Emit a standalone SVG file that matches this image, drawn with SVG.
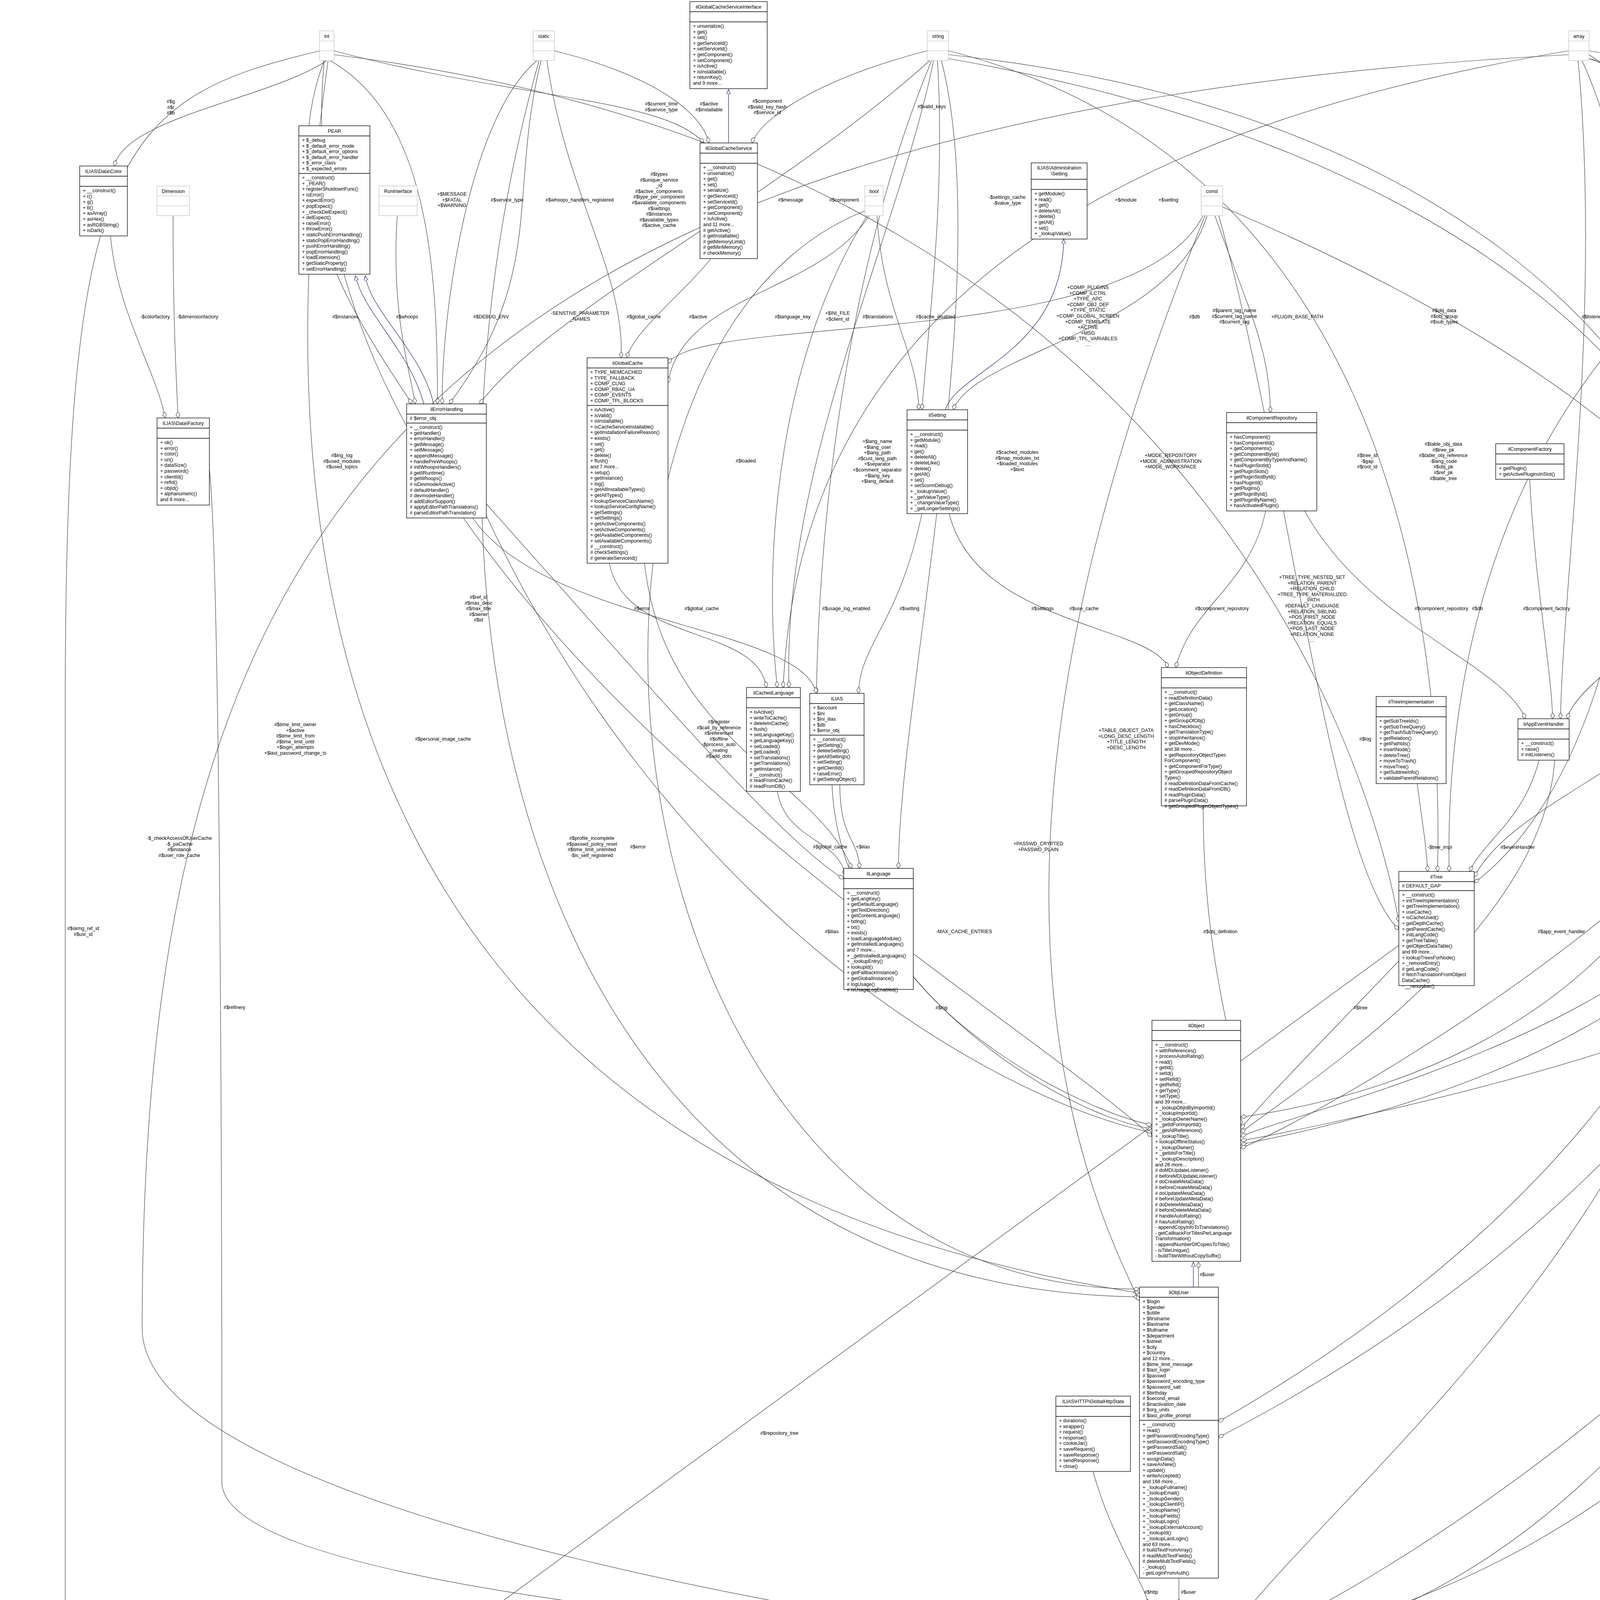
<svg xmlns="http://www.w3.org/2000/svg" width="5605" height="4625" viewBox="0 0 5605 4625">
<style>
.b{fill:#fff;stroke:#000;stroke-width:1.3}
.s{fill:#bfbfbf;stroke:#000;stroke-width:1.3}
.g{fill:#fff;stroke:#bfbfbf;stroke-width:1.2}
.k{stroke:#000;stroke-width:1.3}
.kg{stroke:#bfbfbf;stroke-width:1.2}
text{font-family:"Liberation Sans",Arial,Helvetica,sans-serif;font-size:12.5px;fill:#000}
.c{text-anchor:middle}
.e{fill:none;stroke:#404040;stroke-width:1.2;marker-end:url(#dia)}
.i{fill:none;stroke:#191970;stroke-width:1.2;marker-end:url(#tri)}
</style>
<defs>
<marker id="dia" markerUnits="userSpaceOnUse" markerWidth="18" markerHeight="12" refX="16" refY="5" orient="auto"><path d="M0,5 L8,0 L16,5 L8,10 z" fill="#fff" stroke="#404040" stroke-width="1.2"/></marker>
<marker id="tri" markerUnits="userSpaceOnUse" markerWidth="14" markerHeight="12" refX="12" refY="5" orient="auto"><path d="M0,0 L12,5 L0,10 z" fill="#fff" stroke="#191970" stroke-width="1.2"/></marker>
</defs>
<rect width="5605" height="4625" fill="#fff"/>
<g id="connectors">
<path class="e" d="M836,155 C700,250 320,300 293,425"/>
<path class="e" d="M283,604 C300,800 400,950 423,1070"/>
<path class="e" d="M443,552 C443,800 450,950 456,1070"/>
<path class="e" d="M1017,552 C1000,800 1050,950 1063,1034"/>
<path class="e" d="M845,155 C1100,300 1120,700 1120,1034"/>
<path class="e" d="M1375,155 C1200,300 1130,800 1132,1034"/>
<path class="e" d="M1385,155 C1300,500 1400,700 1150,1034"/>
<path class="e" d="M2380,155 C2000,500 1400,800 1228,1034"/>
<path class="e" d="M830,155 C700,500 900,800 1055,1034"/>
<path class="e" d="M855,130 C1300,250 1700,250 1802,366"/>
<path class="e" d="M1419,130 C1700,200 1800,300 1815,366"/>
<path class="e" d="M2374,130 C2100,200 1950,300 1925,366"/>
<path class="e" d="M1400,155 C1450,500 1600,700 1590,916"/>
<path class="e" d="M1820,662 C1750,750 1620,850 1605,916"/>
<path class="e" d="M2225,552 C2100,750 1750,750 1710,980"/>
<path class="e" d="M2400,155 C2420,500 2380,800 2360,1049"/>
<path class="e" d="M2245,552 C2260,800 2350,900 2352,1049"/>
<path class="e" d="M3090,552 C3000,850 2500,900 2440,1049"/>
<path class="e" d="M3110,552 C3200,800 3252,900 3252,1056"/>
<path class="e" d="M3080,552 C2900,900 1800,800 1710,930"/>
<path class="e" d="M2390,155 C2300,600 2000,1200 2020,1760"/>
<path class="e" d="M2220,552 C2000,900 1950,1400 1990,1760"/>
<path class="e" d="M4016,130 C3000,300 2050,700 2005,1760"/>
<path class="e" d="M2385,155 C2200,600 2100,1200 2090,1775"/>
<path class="e" d="M1560,1442 C1600,1650 1940,1600 1962,1760"/>
<path class="e" d="M1210,1326 C1400,1600 2050,1600 2090,1775"/>
<path class="e" d="M2360,1315 C2300,1600 2200,1650 2198,1775"/>
<path class="e" d="M1990,2026 C2010,2150 2150,2150 2163,2240"/>
<path class="e" d="M2150,2009 C2150,2150 2200,2150 2200,2223"/>
<path class="e" d="M1245,1290 C1700,1800 2000,2150 2160,2250"/>
<path class="e" d="M1650,1442 C1700,1900 2100,2000 2180,2223"/>
<path class="e" d="M2430,1315 C2500,1600 2950,1600 2990,1709"/>
<path class="e" d="M3240,1308 C3200,1500 3050,1550 3010,1709"/>
<path class="e" d="M2410,155 C2550,700 2300,1800 2300,2223"/>
<path class="e" d="M3340,1308 C3500,1600 3850,1700 3905,1840"/>
<path class="e" d="M3916,1227 C3930,1500 3970,1700 3975,1840"/>
<path class="e" d="M4040,155 C4100,800 4000,1500 3995,1840"/>
<path class="e" d="M4745,1294 C4500,1500 4050,1700 4012,1840"/>
<path class="e" d="M3628,2006 C3640,2100 3650,2150 3655,2231"/>
<path class="e" d="M3940,1946 C3900,2100 3800,2150 3762,2231"/>
<path class="e" d="M4502,560 C3800,1000 3700,1800 3710,2231"/>
<path class="e" d="M4740,1290 C4500,1900 3900,2000 3774,2245"/>
<path class="e" d="M4050,155 C4300,700 4250,1900 3774,2260"/>
<path class="e" d="M2428,130 C3500,400 3700,1500 3680,2231"/>
<path class="e" d="M855,140 C3000,400 3500,1900 3581,2360"/>
<path class="e" d="M3120,552 C3300,1200 3400,2200 3581,2380"/>
<path class="e" d="M4560,640 C4500,1200 4480,1500 4470,1672"/>
<path class="e" d="M4068,140 C4600,500 4520,1300 4540,1672"/>
<path class="e" d="M4760,1294 C4700,1500 4650,1550 4605,1672"/>
<path class="e" d="M3130,530 C4000,900 4450,1300 4570,1672"/>
<path class="e" d="M4600,2114 C4620,2200 4630,2230 4632,2260"/>
<path class="e" d="M4800,1294 C4790,1800 4700,2100 4690,2260"/>
<path class="e" d="M4700,640 C4950,1300 4780,2100 4750,2260"/>
<path class="e" d="M4710,640 C5000,800 5200,900 5280,1027"/>
<path class="e" d="M4068,130 C5100,300 5400,600 5405,1027"/>
<path class="e" d="M4862,552 C4850,800 4800,1000 4790,1071"/>
<path class="e" d="M3080,2063 C3080,2500 3180,2700 3176,2880"/>
<path class="e" d="M3581,2460 C3400,2650 3250,2800 3176,2890"/>
<path class="e" d="M3980,1946 C3950,2400 3300,2800 3176,2900"/>
<path class="e" d="M4480,2114 C4400,2600 3300,2850 3176,2910"/>
<path class="e" d="M4590,2480 C4300,2700 3300,2900 3176,2920"/>
<path class="e" d="M4740,600 C5000,1500 4900,2600 3176,2930"/>
<path class="e" d="M4820,1294 C4850,2000 3500,2800 3176,2940"/>
<path class="e" d="M2428,140 C4900,400 5000,2600 3176,2860"/>
<path class="e" d="M2338,2500 C2500,2700 2800,2850 2949,2880"/>
<path class="e" d="M2130,2009 C2150,2500 2700,2850 2949,2890"/>
<path class="e" d="M1245,1320 C1700,2300 2500,2800 2949,2900"/>
<path class="e" d="M830,155 C700,1500 2500,2500 2949,2910"/>
<path class="e" d="M5380,1337 C5380,3000 3500,4100 3107,4240"/>
<path class="e" d="M3068,3295 C3068,3260 3068,3240 3068,3231"/>
<path class="e" d="M840,155 C650,1500 900,3000 2917,3310"/>
<path class="e" d="M1380,155 C1000,1500 1300,3300 2917,3320"/>
<path class="e" d="M3085,552 C2700,1500 2500,2500 2917,3330"/>
<path class="e" d="M2214,540 C1300,900 1500,3300 2917,3300"/>
<path class="e" d="M2428,150 C5000,600 5100,2500 3119,3640"/>
<path class="e" d="M4068,150 C5300,600 5200,2600 3119,3680"/>
<path class="e" d="M3018,4040 L3018,4109"/>
<path class="e" d="M2798,3767 C2850,3950 2930,4050 2940,4109"/>
<path class="e" d="M4450,2114 C4300,3200 3300,3900 3107,4240"/>
<path class="e" d="M4720,640 C5350,2000 4500,4100 3107,4245"/>
<path class="e" d="M4068,150 C5580,500 5600,3800 3107,4235"/>
<path class="e" d="M4016,140 C1000,300 364,1400 364,3400 C364,3900 2500,4200 2930,4240"/>
<path class="e" d="M536,1200 C568,1500 568,3500 568,3800 C600,4100 2500,4200 2930,4245"/>
<path class="e" d="M2930,4260 L856,4530"/>
<path class="e" d="M29,4265 C30,4450 300,4530 627,4530"/>
<path class="e" d="M820,130 C300,250 167,400 167,1800 L167,4300 C167,4450 400,4520 627,4525"/>
<path class="e" d="M3581,2420 L860,4411"/>
<path class="i" d="M1865,366 L1865,229"/>
<path class="i" d="M1085,1034 C1050,900 930,800 910,706"/>
<path class="i" d="M1110,1034 C1080,900 950,800 935,706"/>
<path class="i" d="M2420,1049 C2450,950 2720,900 2723,612"/>
<path class="i" d="M3055,3295 L3055,3231"/>
</g>
<g id="labels">
<text class="c" x="437" y="264"><tspan x="437">#$g</tspan><tspan x="437" dy="14.6">#$r</tspan><tspan x="437" dy="14.6">#$b</tspan></text>
<text class="c" x="1693" y="270"><tspan x="1693">#$current_time</tspan><tspan x="1693" dy="14.6">#$service_type</tspan></text>
<text class="c" x="1815" y="270"><tspan x="1815">#$active</tspan><tspan x="1815" dy="14.6">#$installable</tspan></text>
<text class="c" x="1964" y="263"><tspan x="1964">#$component</tspan><tspan x="1964" dy="14.6">#$valid_key_hash</tspan><tspan x="1964" dy="14.6">#$service_id</tspan></text>
<text class="c" x="2385" y="277">#$valid_keys</text>
<text class="c" x="1157" y="501"><tspan x="1157">+$MESSAGE</tspan><tspan x="1157" dy="14.6">+$FATAL</tspan><tspan x="1157" dy="14.6">+$WARNING</tspan></text>
<text class="c" x="1298" y="516">#$service_type</text>
<text class="c" x="1484" y="516">#$whoops_handlers_registered</text>
<text class="c" x="1687" y="450"><tspan x="1687">#$types</tspan><tspan x="1687" dy="14.6">#$unique_service</tspan><tspan x="1687" dy="14.6">_id</tspan><tspan x="1687" dy="14.6">#$active_components</tspan><tspan x="1687" dy="14.6">#$type_per_component</tspan><tspan x="1687" dy="14.6">#$available_components</tspan><tspan x="1687" dy="14.6">#$settings</tspan><tspan x="1687" dy="14.6">#$instances</tspan><tspan x="1687" dy="14.6">#$available_types</tspan><tspan x="1687" dy="14.6">#$active_cache</tspan></text>
<text class="c" x="2024" y="516">#$message</text>
<text class="c" x="2161" y="516">#$component</text>
<text class="c" x="2578" y="509"><tspan x="2578">-$settings_cache</tspan><tspan x="2578" dy="14.6">-$value_type</tspan></text>
<text class="c" x="2882" y="516">+$module</text>
<text class="c" x="2991" y="516">+$setting</text>
<text class="c" x="397" y="815">-$colorfactory</text>
<text class="c" x="506" y="815">-$dimensionfactory</text>
<text class="c" x="884" y="815">#$instances</text>
<text class="c" x="1042" y="815">#$whoops</text>
<text class="c" x="1257" y="815">#$DEBUG_ENV</text>
<text class="c" x="1485" y="806"><tspan x="1485">-SENSTIVE_PARAMETER</tspan><tspan x="1485" dy="14.6">_NAMES</tspan></text>
<text class="c" x="1648" y="815">#$global_cache</text>
<text class="c" x="1787" y="815">#$active</text>
<text class="c" x="2029" y="815">#$language_key</text>
<text class="c" x="2144" y="806"><tspan x="2144">+$INI_FILE</tspan><tspan x="2144" dy="14.6">+$client_id</tspan></text>
<text class="c" x="2247" y="815">#$translations</text>
<text class="c" x="2395" y="815">#$cache_disabled</text>
<text class="c" x="2785" y="740"><tspan x="2785">+COMP_PLUGINS</tspan><tspan x="2785" dy="14.6">+COMP_ILCTRL</tspan><tspan x="2785" dy="14.6">+TYPE_APC</tspan><tspan x="2785" dy="14.6">+COMP_OBJ_DEF</tspan><tspan x="2785" dy="14.6">+TYPE_STATIC</tspan><tspan x="2785" dy="14.6">+COMP_GLOBAL_SCREEN</tspan><tspan x="2785" dy="14.6">+COMP_TEMPLATE</tspan><tspan x="2785" dy="14.6">+ACTIVE</tspan><tspan x="2785" dy="14.6">+MSG</tspan><tspan x="2785" dy="14.6">+COMP_TPL_VARIABLES</tspan><tspan x="2785" dy="14.6">...</tspan></text>
<text class="c" x="3058" y="815">#$db</text>
<text class="c" x="3160" y="799"><tspan x="3160">#$parent_tag_name</tspan><tspan x="3160" dy="14.6">#$current_tag_name</tspan><tspan x="3160" dy="14.6">#$current_tag</tspan></text>
<text class="c" x="3321" y="815">+PLUGIN_BASE_PATH</text>
<text class="c" x="3697" y="799"><tspan x="3697">#$obj_data</tspan><tspan x="3697" dy="14.6">#$obj_group</tspan><tspan x="3697" dy="14.6">#$sub_types</tspan></text>
<text class="c" x="4076" y="815">#$listener</text>
<text class="c" x="4549" y="799"><tspan x="4549">#$is_assigned_cache</tspan><tspan x="4549" dy="14.6">-$_opsCache</tspan><tspan x="4549" dy="14.6">#$assigned_users_cache</tspan></text>
<text class="c" x="4863" y="815">-$logger</text>
<text class="c" x="5235" y="815">#$db</text>
<text class="c" x="5383" y="494"><tspan x="5383">#$object_data_cache</tspan><tspan x="5383" dy="14.6">#$description_trans</tspan><tspan x="5383" dy="14.6">#$reference_cache</tspan><tspan x="5383" dy="14.6">#$trans_loaded</tspan></text>
<text class="c" x="875" y="1170"><tspan x="875">#$lng_log</tspan><tspan x="875" dy="14.6">#$used_modules</tspan><tspan x="875" dy="14.6">#$used_topics</tspan></text>
<text class="c" x="1909" y="1184">#$loaded</text>
<text class="c" x="2246" y="1134"><tspan x="2246">+$lang_name</tspan><tspan x="2246" dy="14.6">+$lang_user</tspan><tspan x="2246" dy="14.6">+$lang_path</tspan><tspan x="2246" dy="14.6">#$cust_lang_path</tspan><tspan x="2246" dy="14.6">+$separator</tspan><tspan x="2246" dy="14.6">+$comment_separator</tspan><tspan x="2246" dy="14.6">+$lang_key</tspan><tspan x="2246" dy="14.6">+$lang_default</tspan></text>
<text class="c" x="2604" y="1162"><tspan x="2604">#$cached_modules</tspan><tspan x="2604" dy="14.6">#$map_modules_txt</tspan><tspan x="2604" dy="14.6">+$loaded_modules</tspan><tspan x="2604" dy="14.6">+$text</tspan></text>
<text class="c" x="2997" y="1170"><tspan x="2997">+MODE_REPOSITORY</tspan><tspan x="2997" dy="14.6">+MODE_ADMINISTRATION</tspan><tspan x="2997" dy="14.6">+MODE_WORKSPACE</tspan></text>
<text class="c" x="3500" y="1170"><tspan x="3500">#$tree_id</tspan><tspan x="3500" dy="14.6">-$gap</tspan><tspan x="3500" dy="14.6">#$root_id</tspan></text>
<text class="c" x="3695" y="1141"><tspan x="3695">#$table_obj_data</tspan><tspan x="3695" dy="14.6">#$tree_pk</tspan><tspan x="3695" dy="14.6">#$table_obj_reference</tspan><tspan x="3695" dy="14.6">-$lang_code</tspan><tspan x="3695" dy="14.6">#$obj_pk</tspan><tspan x="3695" dy="14.6">#$ref_pk</tspan><tspan x="3695" dy="14.6">#$table_tree</tspan></text>
<text class="c" x="4140" y="1184">#$db</text>
<text class="c" x="4238" y="1134"><tspan x="4238">#$oc_preloaded</tspan><tspan x="4238" dy="14.6">#$translation_cache</tspan><tspan x="4238" dy="14.6">#$is_saved_cache</tspan><tspan x="4238" dy="14.6">#$in_tree_cache</tspan><tspan x="4238" dy="14.6">#$path_id_cache</tspan><tspan x="4238" dy="14.6">#$parent_cache</tspan><tspan x="4238" dy="14.6">#$parent_type_cache</tspan><tspan x="4238" dy="14.6">#$depth_cache</tspan></text>
<text class="c" x="4514" y="1148"><tspan x="4514">+FILTER_NOT_INTERNAL</tspan><tspan x="4514" dy="14.6">+FILTER_ALL_GLOBAL</tspan><tspan x="4514" dy="14.6">+FILTER_ALL</tspan><tspan x="4514" dy="14.6">+FILTER_INTERNAL</tspan><tspan x="4514" dy="14.6">+FILTER_TEMPLATES</tspan><tspan x="4514" dy="14.6">+FILTER_ALL_LOCAL</tspan></text>
<text class="c" x="4661" y="1184">#$db</text>
<text class="c" x="1225" y="1533"><tspan x="1225">#$ref_id</tspan><tspan x="1225" dy="14.6">#$max_desc</tspan><tspan x="1225" dy="14.6">#$max_title</tspan><tspan x="1225" dy="14.6">#$owner</tspan><tspan x="1225" dy="14.6">#$id</tspan></text>
<text class="c" x="1643" y="1562">#$error</text>
<text class="c" x="1796" y="1562">#$global_cache</text>
<text class="c" x="2166" y="1562">#$usage_log_enabled</text>
<text class="c" x="2328" y="1562">#$setting</text>
<text class="c" x="2669" y="1562">#$settings</text>
<text class="c" x="2775" y="1562">#$use_cache</text>
<text class="c" x="3128" y="1562">#$component_repository</text>
<text class="c" x="3359" y="1482"><tspan x="3359">+TREE_TYPE_NESTED_SET</tspan><tspan x="3359" dy="14.6">+RELATION_PARENT</tspan><tspan x="3359" dy="14.6">+RELATION_CHILD</tspan><tspan x="3359" dy="14.6">+TREE_TYPE_MATERIALIZED</tspan><tspan x="3359" dy="14.6">_PATH</tspan><tspan x="3359" dy="14.6">#DEFAULT_LANGUAGE</tspan><tspan x="3359" dy="14.6">+RELATION_SIBLING</tspan><tspan x="3359" dy="14.6">+POS_FIRST_NODE</tspan><tspan x="3359" dy="14.6">+RELATION_EQUALS</tspan><tspan x="3359" dy="14.6">+POS_LAST_NODE</tspan><tspan x="3359" dy="14.6">+RELATION_NONE</tspan><tspan x="3359" dy="14.6">...</tspan></text>
<text class="c" x="3690" y="1562">#$component_repository</text>
<text class="c" x="3782" y="1562">#$db</text>
<text class="c" x="3959" y="1562">#$component_factory</text>
<text class="c" x="4588" y="1562">#$logger</text>
<text class="c" x="4696" y="1562">#$log</text>
<text class="c" x="4854" y="1562">#$db</text>
<text class="c" x="4950" y="1511"><tspan x="4950">#$create_date</tspan><tspan x="4950" dy="14.6">#$desc</tspan><tspan x="4950" dy="14.6">#$title</tspan><tspan x="4950" dy="14.6">#$long_desc</tspan><tspan x="4950" dy="14.6">#$import_id</tspan><tspan x="4950" dy="14.6">+$untranslatedTitle</tspan><tspan x="4950" dy="14.6">#$type</tspan><tspan x="4950" dy="14.6">#$last_update</tspan></text>
<text class="c" x="5067" y="1562">+$objectList</text>
<text class="c" x="756" y="1859"><tspan x="756">#$time_limit_owner</tspan><tspan x="756" dy="14.6">+$active</tspan><tspan x="756" dy="14.6">#$time_limit_from</tspan><tspan x="756" dy="14.6">#$time_limit_until</tspan><tspan x="756" dy="14.6">+$login_attempts</tspan><tspan x="756" dy="14.6">+$last_password_change_ts</tspan></text>
<text class="c" x="1134" y="1896">#$personal_image_cache</text>
<text class="c" x="1840" y="1852"><tspan x="1840">#$register</tspan><tspan x="1840" dy="14.6">#$call_by_reference</tspan><tspan x="1840" dy="14.6">#$referenced</tspan><tspan x="1840" dy="14.6">#$offline</tspan><tspan x="1840" dy="14.6">-$process_auto</tspan><tspan x="1840" dy="14.6">_reating</tspan><tspan x="1840" dy="14.6">#$add_dots</tspan></text>
<text class="c" x="2883" y="1874"><tspan x="2883">+TABLE_OBJECT_DATA</tspan><tspan x="2883" dy="14.6">+LONG_DESC_LENGTH</tspan><tspan x="2883" dy="14.6">+TITLE_LENGTH</tspan><tspan x="2883" dy="14.6">+DESC_LENGTH</tspan></text>
<text class="c" x="3495" y="1896">#$log</text>
<text class="c" x="4292" y="1896">#$db</text>
<text class="c" x="4396" y="1896">#$logger</text>
<text class="c" x="4748" y="1896">#$logger</text>
<text class="c" x="5083" y="1823"><tspan x="5083">#$ext_account</tspan><tspan x="5083" dy="14.6">+$email</tspan><tspan x="5083" dy="14.6">+$phone_office</tspan><tspan x="5083" dy="14.6">+$institution</tspan><tspan x="5083" dy="14.6">#$first_login</tspan><tspan x="5083" dy="14.6">+$longitude</tspan><tspan x="5083" dy="14.6">+$hobby</tspan><tspan x="5083" dy="14.6">+$zipcode</tspan><tspan x="5083" dy="14.6">#$passwd_type</tspan><tspan x="5083" dy="14.6">+$referral_comment</tspan><tspan x="5083" dy="14.6">...</tspan></text>
<text class="c" x="5233" y="1845"><tspan x="5233">+$prefs</tspan><tspan x="5233" dy="14.6">+$user_defined_data</tspan><tspan x="5233" dy="14.6">#$interests_help</tspan><tspan x="5233" dy="14.6">_offered</tspan><tspan x="5233" dy="14.6">#$interests_general</tspan><tspan x="5233" dy="14.6">#$oldPrefs</tspan><tspan x="5233" dy="14.6">#$interests_help</tspan><tspan x="5233" dy="14.6">_looking</tspan></text>
<text class="c" x="459" y="2150"><tspan x="459">-$_checkAccessOfUserCache</tspan><tspan x="459" dy="14.6">-$_paCache</tspan><tspan x="459" dy="14.6">#$instance</tspan><tspan x="459" dy="14.6">#$user_role_cache</tspan></text>
<text class="c" x="1515" y="2150"><tspan x="1515">#$profile_incomplete</tspan><tspan x="1515" dy="14.6">#$passwd_policy_reset</tspan><tspan x="1515" dy="14.6">#$time_limit_unlimited</tspan><tspan x="1515" dy="14.6">-$is_self_registered</tspan></text>
<text class="c" x="1633" y="2172">#$error</text>
<text class="c" x="2125" y="2172">#$global_cache</text>
<text class="c" x="2209" y="2172">+$ilias</text>
<text class="c" x="2658" y="2164"><tspan x="2658">+PASSWD_CRYPTED</tspan><tspan x="2658" dy="14.6">+PASSWD_PLAIN</tspan></text>
<text class="c" x="3686" y="2173">-$tree_impl</text>
<text class="c" x="3885" y="2173">#$eventHandler</text>
<text class="c" x="4642" y="2172">#$rbacreview</text>
<text class="c" x="4838" y="2164"><tspan x="4838">#$obj_log</tspan><tspan x="4838" dy="14.6">#$log</tspan></text>
<text class="c" x="5561" y="2172">#$mem_view</text>
<text class="c" x="213" y="2381"><tspan x="213">#$skmg_ref_id</tspan><tspan x="213" dy="14.6">#$usr_id</tspan></text>
<text class="c" x="2129" y="2389">#$ilias</text>
<text class="c" x="2468" y="2389">-MAX_CACHE_ENTRIES</text>
<text class="c" x="3124" y="2389">#$obj_definition</text>
<text class="c" x="3997" y="2389">#$app_event_handler</text>
<text class="c" x="4482" y="2389">#$rbac_review</text>
<text class="c" x="5343" y="2389">#$db</text>
<text class="c" x="600" y="2583">#$refinery</text>
<text class="c" x="2410" y="2584">#$lng</text>
<text class="c" x="3483" y="2584">#$tree</text>
<text class="c" x="4500" y="2584">#$rbac_admin</text>
<text class="c" x="5440" y="2583">#$objectDataCache</text>
<text class="c" x="3090" y="3267">#$user</text>
<text class="c" x="1995" y="3673">#$repository_tree</text>
<text class="c" x="2947" y="4080">#$http</text>
<text class="c" x="3042" y="4080">#$user</text>
<text class="c" x="91" y="4382">#$skill_tree_factory</text>
<text class="c" x="1925" y="4382">#$rbac_system</text>
</g>
<g id="int"><rect class="g" x="818" y="79" width="37" height="76"/><path class="kg" d="M818,105H855M818,130H855"/><text class="c" x="836.5" y="97">int</text></g>
<g id="static"><rect class="g" x="1365" y="79" width="54" height="76"/><path class="kg" d="M1365,105H1419M1365,130H1419"/><text class="c" x="1392" y="97">static</text></g>
<g id="string"><rect class="g" x="2374" y="79" width="54" height="76"/><path class="kg" d="M2374,105H2428M2374,130H2428"/><text class="c" x="2401" y="97">string</text></g>
<g id="array"><rect class="g" x="4016" y="79" width="52" height="76"/><path class="kg" d="M4016,105H4068M4016,130H4068"/><text class="c" x="4042" y="97">array</text></g>
<g id="bool"><rect class="g" x="2214" y="476" width="47" height="76"/><path class="kg" d="M2214,502H2261M2214,527H2261"/><text class="c" x="2237.5" y="494">bool</text></g>
<g id="const"><rect class="g" x="3075" y="476" width="55" height="76"/><path class="kg" d="M3075,502H3130M3075,527H3130"/><text class="c" x="3102.5" y="494">const</text></g>
<g id="Dimension"><rect class="g" x="402" y="476" width="83" height="76"/><path class="kg" d="M402,502H485M402,527H485"/><text class="c" x="443.5" y="494">Dimension</text></g>
<g id="RunInterface"><rect class="g" x="970" y="476" width="98" height="76"/><path class="kg" d="M970,502H1068M970,527H1068"/><text class="c" x="1019" y="494">RunInterface</text></g>
<g id="Logger"><rect class="g" x="4832" y="476" width="61" height="76"/><path class="kg" d="M4832,502H4893M4832,527H4893"/><text class="c" x="4862.5" y="494">Logger</text></g>
<g id="Tree"><rect class="g" x="6" y="4190" width="46" height="76"/><path class="kg" d="M6,4216H52M6,4241H52"/><text class="c" x="29" y="4208">Tree</text></g>
<g id="ilGlobalCacheServiceInterface"><rect class="b" x="1766" y="4" width="198" height="223"/><path class="k" d="M1766,30H1964M1766,56H1964"/><text class="c" x="1865" y="22">ilGlobalCacheServiceInterface</text>
<text x="1774" y="56.4"><tspan x="1774" dy="14.6">+ unserialize()</tspan><tspan x="1774" dy="14.6">+ get()</tspan><tspan x="1774" dy="14.6">+ set()</tspan><tspan x="1774" dy="14.6">+ getServiceId()</tspan><tspan x="1774" dy="14.6">+ setServiceId()</tspan><tspan x="1774" dy="14.6">+ getComponent()</tspan><tspan x="1774" dy="14.6">+ setComponent()</tspan><tspan x="1774" dy="14.6">+ isActive()</tspan><tspan x="1774" dy="14.6">+ isInstallable()</tspan><tspan x="1774" dy="14.6">+ returnKey()</tspan><tspan x="1774" dy="14.6">and 9 more...</tspan></text></g>
<g id="ilGlobalCacheService"><rect class="b" x="1792" y="366" width="147" height="296"/><path class="k" d="M1792,392H1939M1792,418H1939"/><text class="c" x="1865.5" y="384">ilGlobalCacheService</text>
<text x="1800" y="418.4"><tspan x="1800" dy="14.6">+ __construct()</tspan><tspan x="1800" dy="14.6">+ unserialize()</tspan><tspan x="1800" dy="14.6">+ get()</tspan><tspan x="1800" dy="14.6">+ set()</tspan><tspan x="1800" dy="14.6">+ serialize()</tspan><tspan x="1800" dy="14.6">+ getServiceId()</tspan><tspan x="1800" dy="14.6">+ setServiceId()</tspan><tspan x="1800" dy="14.6">+ getComponent()</tspan><tspan x="1800" dy="14.6">+ setComponent()</tspan><tspan x="1800" dy="14.6">+ isActive()</tspan><tspan x="1800" dy="14.6">and 11 more...</tspan><tspan x="1800" dy="14.6"># getActive()</tspan><tspan x="1800" dy="14.6"># getInstallable()</tspan><tspan x="1800" dy="14.6"># getMemoryLimit()</tspan><tspan x="1800" dy="14.6"># getMinMemory()</tspan><tspan x="1800" dy="14.6"># checkMemory()</tspan></text></g>
<g id="PEAR"><rect class="b" x="765" y="322" width="182" height="380"/><path class="k" d="M765,348H947M765,444H947"/><text class="c" x="856" y="340">PEAR</text>
<text x="773" y="348.4"><tspan x="773" dy="14.6">+ $_debug</tspan><tspan x="773" dy="14.6">+ $_default_error_mode</tspan><tspan x="773" dy="14.6">+ $_default_error_options</tspan><tspan x="773" dy="14.6">+ $_default_error_handler</tspan><tspan x="773" dy="14.6">+ $_error_class</tspan><tspan x="773" dy="14.6">+ $_expected_errors</tspan></text>
<text x="773" y="444.4"><tspan x="773" dy="14.6">+ __construct()</tspan><tspan x="773" dy="14.6">+ _PEAR()</tspan><tspan x="773" dy="14.6">+ registerShutdownFunc()</tspan><tspan x="773" dy="14.6">+ isError()</tspan><tspan x="773" dy="14.6">+ expectError()</tspan><tspan x="773" dy="14.6">+ popExpect()</tspan><tspan x="773" dy="14.6">+ _checkDelExpect()</tspan><tspan x="773" dy="14.6">+ delExpect()</tspan><tspan x="773" dy="14.6">+ raiseError()</tspan><tspan x="773" dy="14.6">+ throwError()</tspan><tspan x="773" dy="14.6">+ staticPushErrorHandling()</tspan><tspan x="773" dy="14.6">+ staticPopErrorHandling()</tspan><tspan x="773" dy="14.6">+ pushErrorHandling()</tspan><tspan x="773" dy="14.6">+ popErrorHandling()</tspan><tspan x="773" dy="14.6">+ loadExtension()</tspan><tspan x="773" dy="14.6">+ getStaticProperty()</tspan><tspan x="773" dy="14.6">+ setErrorHandling()</tspan></text></g>
<g id="ilErrorHandling"><rect class="b" x="1041" y="1034" width="204" height="292"/><path class="k" d="M1041,1060H1245M1041,1083H1245"/><text class="c" x="1143" y="1052">ilErrorHandling</text>
<text x="1049" y="1075"># $error_obj</text>
<text x="1049" y="1083.4"><tspan x="1049" dy="14.6">+ __construct()</tspan><tspan x="1049" dy="14.6">+ getHandler()</tspan><tspan x="1049" dy="14.6">+ errorHandler()</tspan><tspan x="1049" dy="14.6">+ getMessage()</tspan><tspan x="1049" dy="14.6">+ setMessage()</tspan><tspan x="1049" dy="14.6">+ appendMessage()</tspan><tspan x="1049" dy="14.6">+ handlePreWhoops()</tspan><tspan x="1049" dy="14.6"># initWhoopsHandlers()</tspan><tspan x="1049" dy="14.6"># getIlRuntime()</tspan><tspan x="1049" dy="14.6"># getWhoops()</tspan><tspan x="1049" dy="14.6"># isDevmodeActive()</tspan><tspan x="1049" dy="14.6"># defaultHandler()</tspan><tspan x="1049" dy="14.6"># devmodeHandler()</tspan><tspan x="1049" dy="14.6"># addEditorSupport()</tspan><tspan x="1049" dy="14.6"># applyEditorPathTranslations()</tspan><tspan x="1049" dy="14.6"># parseEditorPathTranslation()</tspan></text></g>
<g id="ilGlobalCache"><rect class="b" x="1503" y="916" width="207" height="526"/><path class="k" d="M1503,942H1710M1503,1038H1710"/><text class="c" x="1606.5" y="934">ilGlobalCache</text>
<text x="1511" y="942.4"><tspan x="1511" dy="14.6">+ TYPE_MEMCACHED</tspan><tspan x="1511" dy="14.6">+ TYPE_FALLBACK</tspan><tspan x="1511" dy="14.6">+ COMP_CLNG</tspan><tspan x="1511" dy="14.6">+ COMP_RBAC_UA</tspan><tspan x="1511" dy="14.6">+ COMP_EVENTS</tspan><tspan x="1511" dy="14.6">+ COMP_TPL_BLOCKS</tspan></text>
<text x="1511" y="1038.4"><tspan x="1511" dy="14.6">+ isActive()</tspan><tspan x="1511" dy="14.6">+ isValid()</tspan><tspan x="1511" dy="14.6">+ isInstallable()</tspan><tspan x="1511" dy="14.6">+ isCacheServiceInstallable()</tspan><tspan x="1511" dy="14.6">+ getInstallationFailureReason()</tspan><tspan x="1511" dy="14.6">+ exists()</tspan><tspan x="1511" dy="14.6">+ set()</tspan><tspan x="1511" dy="14.6">+ get()</tspan><tspan x="1511" dy="14.6">+ delete()</tspan><tspan x="1511" dy="14.6">+ flush()</tspan><tspan x="1511" dy="14.6">and 7 more...</tspan><tspan x="1511" dy="14.6">+ setup()</tspan><tspan x="1511" dy="14.6">+ getInstance()</tspan><tspan x="1511" dy="14.6">+ log()</tspan><tspan x="1511" dy="14.6">+ getAllInstallableTypes()</tspan><tspan x="1511" dy="14.6">+ getAllTypes()</tspan><tspan x="1511" dy="14.6">+ lookupServiceClassName()</tspan><tspan x="1511" dy="14.6">+ lookupServiceConfigName()</tspan><tspan x="1511" dy="14.6">+ getSettings()</tspan><tspan x="1511" dy="14.6">+ setSettings()</tspan><tspan x="1511" dy="14.6">+ getActiveComponents()</tspan><tspan x="1511" dy="14.6">+ setActiveComponents()</tspan><tspan x="1511" dy="14.6">+ getAvailableComponents()</tspan><tspan x="1511" dy="14.6">+ setAvailableComponents()</tspan><tspan x="1511" dy="14.6"># __construct()</tspan><tspan x="1511" dy="14.6"># checkSettings()</tspan><tspan x="1511" dy="14.6"># generateServiceId()</tspan></text></g>
<g id="ilSetting"><rect class="b" x="2322" y="1049" width="155" height="266"/><path class="k" d="M2322,1075H2477M2322,1101H2477"/><text class="c" x="2399.5" y="1067">ilSetting</text>
<text x="2330" y="1101.4"><tspan x="2330" dy="14.6">+ __construct()</tspan><tspan x="2330" dy="14.6">+ getModule()</tspan><tspan x="2330" dy="14.6">+ read()</tspan><tspan x="2330" dy="14.6">+ get()</tspan><tspan x="2330" dy="14.6">+ deleteAll()</tspan><tspan x="2330" dy="14.6">+ deleteLike()</tspan><tspan x="2330" dy="14.6">+ delete()</tspan><tspan x="2330" dy="14.6">+ getAll()</tspan><tspan x="2330" dy="14.6">+ set()</tspan><tspan x="2330" dy="14.6">+ setScormDebug()</tspan><tspan x="2330" dy="14.6">+ _lookupValue()</tspan><tspan x="2330" dy="14.6">+ _getValueType()</tspan><tspan x="2330" dy="14.6">+ _changeValueType()</tspan><tspan x="2330" dy="14.6">+ _getLongerSettings()</tspan></text></g>
<g id="AdministrationSetting"><rect class="b" x="2640" y="417" width="143" height="195"/><path class="k" d="M2640,459H2783M2640,485H2783"/><text class="c" x="2711.5" y="434"><tspan x="2711.5">ILIAS\Administration</tspan><tspan x="2711.5" dy="15">\Setting</tspan></text>
<text x="2648" y="485.4"><tspan x="2648" dy="14.6">+ getModule()</tspan><tspan x="2648" dy="14.6">+ read()</tspan><tspan x="2648" dy="14.6">+ get()</tspan><tspan x="2648" dy="14.6">+ deleteAll()</tspan><tspan x="2648" dy="14.6">+ delete()</tspan><tspan x="2648" dy="14.6">+ getAll()</tspan><tspan x="2648" dy="14.6">+ set()</tspan><tspan x="2648" dy="14.6">+ _lookupValue()</tspan></text></g>
<g id="ilComponentRepository"><rect class="b" x="3140" y="1056" width="231" height="252"/><path class="k" d="M3140,1082H3371M3140,1108H3371"/><text class="c" x="3255.5" y="1074">ilComponentRepository</text>
<text x="3148" y="1108.4"><tspan x="3148" dy="14.6">+ hasComponent()</tspan><tspan x="3148" dy="14.6">+ hasComponentId()</tspan><tspan x="3148" dy="14.6">+ getComponents()</tspan><tspan x="3148" dy="14.6">+ getComponentById()</tspan><tspan x="3148" dy="14.6">+ getComponentByTypeAndName()</tspan><tspan x="3148" dy="14.6">+ hasPluginSlotId()</tspan><tspan x="3148" dy="14.6">+ getPluginSlots()</tspan><tspan x="3148" dy="14.6">+ getPluginSlotById()</tspan><tspan x="3148" dy="14.6">+ hasPluginId()</tspan><tspan x="3148" dy="14.6">+ getPlugins()</tspan><tspan x="3148" dy="14.6">+ getPluginById()</tspan><tspan x="3148" dy="14.6">+ getPluginByName()</tspan><tspan x="3148" dy="14.6">+ hasActivatedPlugin()</tspan></text></g>
<g id="ilComponentFactory"><rect class="b" x="3829" y="1136" width="175" height="91"/><path class="k" d="M3829,1162H4004M3829,1188H4004"/><text class="c" x="3916.5" y="1154">ilComponentFactory</text>
<text x="3837" y="1188.4"><tspan x="3837" dy="14.6">+ getPlugin()</tspan><tspan x="3837" dy="14.6">+ getActivePluginsInSlot()</tspan></text></g>
<g id="ilDBInterface"><rect class="b" x="4502" y="388" width="236" height="252"/><path class="k" d="M4502,414H4738M4502,440H4738"/><text class="c" x="4620" y="406">ilDBInterface</text>
<text x="4510" y="440.4"><tspan x="4510" dy="14.6">+ doesCollationSupportMB4Strings()</tspan><tspan x="4510" dy="14.6">+ sanitizeMB4StringIfNotSupported()</tspan><tspan x="4510" dy="14.6">+ initFromIniFile()</tspan><tspan x="4510" dy="14.6">+ connect()</tspan><tspan x="4510" dy="14.6">+ nextId()</tspan><tspan x="4510" dy="14.6">+ createTable()</tspan><tspan x="4510" dy="14.6">+ addPrimaryKey()</tspan><tspan x="4510" dy="14.6">+ createSequence()</tspan><tspan x="4510" dy="14.6">+ getSequenceName()</tspan><tspan x="4510" dy="14.6">+ tableExists()</tspan><tspan x="4510" dy="14.6">and 74 more...</tspan><tspan x="4510" dy="14.6">+ getReservedWords()</tspan><tspan x="4510" dy="14.6">+ isReservedWord()</tspan></text></g>
<g id="ilLogger"><rect class="b" x="4734" y="1071" width="110" height="223"/><path class="k" d="M4734,1097H4844M4734,1123H4844"/><text class="c" x="4789" y="1089">ilLogger</text>
<text x="4742" y="1123.4"><tspan x="4742" dy="14.6">+ __construct()</tspan><tspan x="4742" dy="14.6">+ isHandling()</tspan><tspan x="4742" dy="14.6">+ log()</tspan><tspan x="4742" dy="14.6">+ dump()</tspan><tspan x="4742" dy="14.6">+ debug()</tspan><tspan x="4742" dy="14.6">+ info()</tspan><tspan x="4742" dy="14.6">+ notice()</tspan><tspan x="4742" dy="14.6">+ warning()</tspan><tspan x="4742" dy="14.6">+ error()</tspan><tspan x="4742" dy="14.6">+ critical()</tspan><tspan x="4742" dy="14.6">and 7 more...</tspan></text></g>
<g id="ilObjectDataCache"><rect class="b" x="5258" y="1027" width="182" height="310"/><path class="k" d="M5258,1053H5440M5258,1079H5440"/><text class="c" x="5349" y="1045">ilObjectDataCache</text>
<text x="5266" y="1079.4"><tspan x="5266" dy="14.6">+ __construct()</tspan><tspan x="5266" dy="14.6">+ deleteCachedEntry()</tspan><tspan x="5266" dy="14.6">+ lookupObjId()</tspan><tspan x="5266" dy="14.6">+ lookupTitle()</tspan><tspan x="5266" dy="14.6">+ lookupType()</tspan><tspan x="5266" dy="14.6">+ lookupOwner()</tspan><tspan x="5266" dy="14.6">+ lookupDescription()</tspan><tspan x="5266" dy="14.6">+ lookupLastUpdate()</tspan><tspan x="5266" dy="14.6">+ lookupOfflineStatus()</tspan><tspan x="5266" dy="14.6">+ isTranslatedDescription()</tspan><tspan x="5266" dy="14.6">+ preloadObjectCache()</tspan><tspan x="5266" dy="14.6">+ preloadTranslations()</tspan><tspan x="5266" dy="14.6">+ preloadReferenceCache()</tspan><tspan x="5266" dy="14.6">- __isReferenceCached()</tspan><tspan x="5266" dy="14.6">- __isObjectCached()</tspan><tspan x="5266" dy="14.6">- __storeReference()</tspan><tspan x="5266" dy="14.6">- __storeObjectData()</tspan></text></g>
<g id="DataColor"><rect class="b" x="204" y="425" width="122" height="179"/><path class="k" d="M204,451H326M204,477H326"/><text class="c" x="265" y="443">ILIAS\Data\Color</text>
<text x="212" y="477.4"><tspan x="212" dy="14.6">+ __construct()</tspan><tspan x="212" dy="14.6">+ r()</tspan><tspan x="212" dy="14.6">+ g()</tspan><tspan x="212" dy="14.6">+ b()</tspan><tspan x="212" dy="14.6">+ asArray()</tspan><tspan x="212" dy="14.6">+ asHex()</tspan><tspan x="212" dy="14.6">+ asRGBString()</tspan><tspan x="212" dy="14.6">+ isDark()</tspan></text></g>
<g id="DataFactory"><rect class="b" x="402" y="1070" width="134" height="223"/><path class="k" d="M402,1096H536M402,1122H536"/><text class="c" x="469" y="1088">ILIAS\Data\Factory</text>
<text x="410" y="1122.4"><tspan x="410" dy="14.6">+ ok()</tspan><tspan x="410" dy="14.6">+ error()</tspan><tspan x="410" dy="14.6">+ color()</tspan><tspan x="410" dy="14.6">+ uri()</tspan><tspan x="410" dy="14.6">+ dataSize()</tspan><tspan x="410" dy="14.6">+ password()</tspan><tspan x="410" dy="14.6">+ clientId()</tspan><tspan x="410" dy="14.6">+ refId()</tspan><tspan x="410" dy="14.6">+ objId()</tspan><tspan x="410" dy="14.6">+ alphanumeric()</tspan><tspan x="410" dy="14.6">and 9 more...</tspan></text></g>
<g id="ilCachedLanguage"><rect class="b" x="1911" y="1760" width="138" height="266"/><path class="k" d="M1911,1786H2049M1911,1812H2049"/><text class="c" x="1980" y="1778">ilCachedLanguage</text>
<text x="1919" y="1812.4"><tspan x="1919" dy="14.6">+ isActive()</tspan><tspan x="1919" dy="14.6">+ writeToCache()</tspan><tspan x="1919" dy="14.6">+ deleteInCache()</tspan><tspan x="1919" dy="14.6">+ flush()</tspan><tspan x="1919" dy="14.6">+ setLanguageKey()</tspan><tspan x="1919" dy="14.6">+ getLanguageKey()</tspan><tspan x="1919" dy="14.6">+ setLoaded()</tspan><tspan x="1919" dy="14.6">+ getLoaded()</tspan><tspan x="1919" dy="14.6">+ setTranslations()</tspan><tspan x="1919" dy="14.6">+ getTranslations()</tspan><tspan x="1919" dy="14.6">+ getInstance()</tspan><tspan x="1919" dy="14.6"># __construct()</tspan><tspan x="1919" dy="14.6"># readFromCache()</tspan><tspan x="1919" dy="14.6"># readFromDB()</tspan></text></g>
<g id="ILIAS"><rect class="b" x="2073" y="1775" width="139" height="234"/><path class="k" d="M2073,1801H2212M2073,1882H2212"/><text class="c" x="2142.5" y="1793">ILIAS</text>
<text x="2081" y="1801.4"><tspan x="2081" dy="14.6">+ $account</tspan><tspan x="2081" dy="14.6">+ $ini</tspan><tspan x="2081" dy="14.6">+ $ini_ilias</tspan><tspan x="2081" dy="14.6">+ $db</tspan><tspan x="2081" dy="14.6">+ $error_obj</tspan></text>
<text x="2081" y="1882.4"><tspan x="2081" dy="14.6">+ __construct()</tspan><tspan x="2081" dy="14.6">+ getSetting()</tspan><tspan x="2081" dy="14.6">+ deleteSetting()</tspan><tspan x="2081" dy="14.6">+ getAllSettings()</tspan><tspan x="2081" dy="14.6">+ setSetting()</tspan><tspan x="2081" dy="14.6">+ getClientId()</tspan><tspan x="2081" dy="14.6">+ raiseError()</tspan><tspan x="2081" dy="14.6"># getSettingObject()</tspan></text></g>
<g id="ilLanguage"><rect class="b" x="2160" y="2223" width="178" height="310"/><path class="k" d="M2160,2249H2338M2160,2275H2338"/><text class="c" x="2249" y="2241">ilLanguage</text>
<text x="2168" y="2275.4"><tspan x="2168" dy="14.6">+ __construct()</tspan><tspan x="2168" dy="14.6">+ getLangKey()</tspan><tspan x="2168" dy="14.6">+ getDefaultLanguage()</tspan><tspan x="2168" dy="14.6">+ getTextDirection()</tspan><tspan x="2168" dy="14.6">+ getContentLanguage()</tspan><tspan x="2168" dy="14.6">+ txtlng()</tspan><tspan x="2168" dy="14.6">+ txt()</tspan><tspan x="2168" dy="14.6">+ exists()</tspan><tspan x="2168" dy="14.6">+ loadLanguageModule()</tspan><tspan x="2168" dy="14.6">+ getInstalledLanguages()</tspan><tspan x="2168" dy="14.6">and 7 more...</tspan><tspan x="2168" dy="14.6">+ _getInstalledLanguages()</tspan><tspan x="2168" dy="14.6">+ _lookupEntry()</tspan><tspan x="2168" dy="14.6">+ lookupId()</tspan><tspan x="2168" dy="14.6">+ getFallbackInstance()</tspan><tspan x="2168" dy="14.6">+ getGlobalInstance()</tspan><tspan x="2168" dy="14.6"># logUsage()</tspan><tspan x="2168" dy="14.6"># isUsageLogEnabled()</tspan></text></g>
<g id="ilObjectDefinition"><rect class="b" x="2973" y="1709" width="218" height="354"/><path class="k" d="M2973,1735H3191M2973,1761H3191"/><text class="c" x="3082" y="1727">ilObjectDefinition</text>
<text x="2981" y="1761.4"><tspan x="2981" dy="14.6">+ __construct()</tspan><tspan x="2981" dy="14.6">+ readDefinitionData()</tspan><tspan x="2981" dy="14.6">+ getClassName()</tspan><tspan x="2981" dy="14.6">+ getLocation()</tspan><tspan x="2981" dy="14.6">+ getGroup()</tspan><tspan x="2981" dy="14.6">+ getGroupOfObj()</tspan><tspan x="2981" dy="14.6">+ hasCheckbox()</tspan><tspan x="2981" dy="14.6">+ getTranslationType()</tspan><tspan x="2981" dy="14.6">+ stopInheritance()</tspan><tspan x="2981" dy="14.6">+ getDevMode()</tspan><tspan x="2981" dy="14.6">and 38 more...</tspan><tspan x="2981" dy="14.6">+ getRepositoryObjectTypes</tspan><tspan x="2981" dy="14.6">ForComponent()</tspan><tspan x="2981" dy="14.6">+ getComponentForType()</tspan><tspan x="2981" dy="14.6">+ getGroupedRepositoryObject</tspan><tspan x="2981" dy="14.6">Types()</tspan><tspan x="2981" dy="14.6"># readDefinitionDataFromCache()</tspan><tspan x="2981" dy="14.6"># readDefinitionDataFromDB()</tspan><tspan x="2981" dy="14.6"># readPluginData()</tspan><tspan x="2981" dy="14.6"># parsePluginData()</tspan><tspan x="2981" dy="14.6"># getGroupedPluginObjectTypes()</tspan></text></g>
<g id="ilTreeImplementation"><rect class="b" x="3523" y="1783" width="179" height="223"/><path class="k" d="M3523,1809H3702M3523,1835H3702"/><text class="c" x="3612.5" y="1801">ilTreeImplementation</text>
<text x="3531" y="1835.4"><tspan x="3531" dy="14.6">+ getSubTreeIds()</tspan><tspan x="3531" dy="14.6">+ getSubTreeQuery()</tspan><tspan x="3531" dy="14.6">+ getTrashSubTreeQuery()</tspan><tspan x="3531" dy="14.6">+ getRelation()</tspan><tspan x="3531" dy="14.6">+ getPathIds()</tspan><tspan x="3531" dy="14.6">+ insertNode()</tspan><tspan x="3531" dy="14.6">+ deleteTree()</tspan><tspan x="3531" dy="14.6">+ moveToTrash()</tspan><tspan x="3531" dy="14.6">+ moveTree()</tspan><tspan x="3531" dy="14.6">+ getSubtreeInfo()</tspan><tspan x="3531" dy="14.6">+ validateParentRelations()</tspan></text></g>
<g id="ilAppEventHandler"><rect class="b" x="3886" y="1840" width="131" height="106"/><path class="k" d="M3886,1866H4017M3886,1892H4017"/><text class="c" x="3951.5" y="1858">ilAppEventHandler</text>
<text x="3894" y="1892.4"><tspan x="3894" dy="14.6">+ __construct()</tspan><tspan x="3894" dy="14.6">+ raise()</tspan><tspan x="3894" dy="14.6"># initListeners()</tspan></text></g>
<g id="ilTree"><rect class="b" x="3581" y="2231" width="193" height="292"/><path class="k" d="M3581,2257H3774M3581,2280H3774"/><text class="c" x="3677.5" y="2249">ilTree</text>
<text x="3589" y="2272"># DEFAULT_GAP</text>
<text x="3589" y="2280.4"><tspan x="3589" dy="14.6">+ __construct()</tspan><tspan x="3589" dy="14.6">+ initTreeImplementation()</tspan><tspan x="3589" dy="14.6">+ getTreeImplementation()</tspan><tspan x="3589" dy="14.6">+ useCache()</tspan><tspan x="3589" dy="14.6">+ isCacheUsed()</tspan><tspan x="3589" dy="14.6">+ getDepthCache()</tspan><tspan x="3589" dy="14.6">+ getParentCache()</tspan><tspan x="3589" dy="14.6">+ initLangCode()</tspan><tspan x="3589" dy="14.6">+ getTreeTable()</tspan><tspan x="3589" dy="14.6">+ getObjectDataTable()</tspan><tspan x="3589" dy="14.6">and 69 more...</tspan><tspan x="3589" dy="14.6">+ lookupTreesForNode()</tspan><tspan x="3589" dy="14.6">+ _removeEntry()</tspan><tspan x="3589" dy="14.6"># getLangCode()</tspan><tspan x="3589" dy="14.6"># fetchTranslationFromObject</tspan><tspan x="3589" dy="14.6">DataCache()</tspan><tspan x="3589" dy="14.6">- __renumber()</tspan></text></g>
<g id="ilRbacReview"><rect class="b" x="4433" y="1672" width="219" height="442"/><path class="k" d="M4433,1698H4652M4433,1724H4652"/><text class="c" x="4542.5" y="1690">ilRbacReview</text>
<text x="4441" y="1724.4"><tspan x="4441" dy="14.6">+ __construct()</tspan><tspan x="4441" dy="14.6">+ roleExists()</tspan><tspan x="4441" dy="14.6">+ getParentRoleIds()</tspan><tspan x="4441" dy="14.6">+ getRoleListByObject()</tspan><tspan x="4441" dy="14.6">+ getAssignableRoles()</tspan><tspan x="4441" dy="14.6">+ getAssignableRolesInSubtree()</tspan><tspan x="4441" dy="14.6">+ getAssignableChildRoles()</tspan><tspan x="4441" dy="14.6">+ getNumberOfAssignedUsers()</tspan><tspan x="4441" dy="14.6">+ assignedUsers()</tspan><tspan x="4441" dy="14.6">+ isAssigned()</tspan><tspan x="4441" dy="14.6">and 43 more...</tspan><tspan x="4441" dy="14.6">+ _getOperationIdsByName()</tspan><tspan x="4441" dy="14.6">+ _getOperationIdByName()</tspan><tspan x="4441" dy="14.6">+ lookupCreateOperationIds()</tspan><tspan x="4441" dy="14.6">+ _getOperationList()</tspan><tspan x="4441" dy="14.6">+ _groupOperationsByClass()</tspan><tspan x="4441" dy="14.6">+ _getCustomRBACOperationId()</tspan><tspan x="4441" dy="14.6">+ _isRBACOperation()</tspan><tspan x="4441" dy="14.6"># __getParentRoles()</tspan><tspan x="4441" dy="14.6"># __setTemplateFilter()</tspan><tspan x="4441" dy="14.6"># __setRoleType()</tspan><tspan x="4441" dy="14.6"># __setProtectedStatus()</tspan><tspan x="4441" dy="14.6">- getAssignableRolesGenerator()</tspan><tspan x="4441" dy="14.6">- setRoleTypeAndProtection()</tspan><tspan x="4441" dy="14.6">- buildRoleType()</tspan><tspan x="4441" dy="14.6">- buildProtectionByStringValue()</tspan></text></g>
<g id="ilRbacAdmin"><rect class="b" x="4585" y="2260" width="189" height="252"/><path class="k" d="M4585,2286H4774M4585,2312H4774"/><text class="c" x="4679.5" y="2278">ilRbacAdmin</text>
<text x="4593" y="2312.4"><tspan x="4593" dy="14.6">+ __construct()</tspan><tspan x="4593" dy="14.6">+ setBlockedStatus()</tspan><tspan x="4593" dy="14.6">+ removeUser()</tspan><tspan x="4593" dy="14.6">+ deleteRole()</tspan><tspan x="4593" dy="14.6">+ deleteTemplate()</tspan><tspan x="4593" dy="14.6">+ deleteLocalRole()</tspan><tspan x="4593" dy="14.6">+ assignUserLimited()</tspan><tspan x="4593" dy="14.6">+ assignUser()</tspan><tspan x="4593" dy="14.6">+ deassignUser()</tspan><tspan x="4593" dy="14.6">+ grantPermission()</tspan><tspan x="4593" dy="14.6">and 18 more...</tspan><tspan x="4593" dy="14.6"># applyMovedObjectDidactic</tspan><tspan x="4593" dy="14.6">Templates()</tspan></text></g>
<g id="ilObject"><rect class="b" x="2949" y="2612" width="227" height="617"/><path class="k" d="M2949,2638H3176M2949,2664H3176"/><text class="c" x="3062.5" y="2630">ilObject</text>
<text x="2957" y="2664.4"><tspan x="2957" dy="14.6">+ __construct()</tspan><tspan x="2957" dy="14.6">+ withReferences()</tspan><tspan x="2957" dy="14.6">+ processAutoRating()</tspan><tspan x="2957" dy="14.6">+ read()</tspan><tspan x="2957" dy="14.6">+ getId()</tspan><tspan x="2957" dy="14.6">+ setId()</tspan><tspan x="2957" dy="14.6">+ setRefId()</tspan><tspan x="2957" dy="14.6">+ getRefId()</tspan><tspan x="2957" dy="14.6">+ getType()</tspan><tspan x="2957" dy="14.6">+ setType()</tspan><tspan x="2957" dy="14.6">and 39 more...</tspan><tspan x="2957" dy="14.6">+ _lookupObjIdByImportId()</tspan><tspan x="2957" dy="14.6">+ _lookupImportId()</tspan><tspan x="2957" dy="14.6">+ _lookupOwnerName()</tspan><tspan x="2957" dy="14.6">+ _getIdForImportId()</tspan><tspan x="2957" dy="14.6">+ _getAllReferences()</tspan><tspan x="2957" dy="14.6">+ _lookupTitle()</tspan><tspan x="2957" dy="14.6">+ lookupOfflineStatus()</tspan><tspan x="2957" dy="14.6">+ _lookupOwner()</tspan><tspan x="2957" dy="14.6">+ _getIdsForTitle()</tspan><tspan x="2957" dy="14.6">+ _lookupDescription()</tspan><tspan x="2957" dy="14.6">and 26 more...</tspan><tspan x="2957" dy="14.6"># doMDUpdateListener()</tspan><tspan x="2957" dy="14.6"># beforeMDUpdateListener()</tspan><tspan x="2957" dy="14.6"># doCreateMetaData()</tspan><tspan x="2957" dy="14.6"># beforeCreateMetaData()</tspan><tspan x="2957" dy="14.6"># doUpdateMetaData()</tspan><tspan x="2957" dy="14.6"># beforeUpdateMetaData()</tspan><tspan x="2957" dy="14.6"># doDeleteMetaData()</tspan><tspan x="2957" dy="14.6"># beforeDeleteMetaData()</tspan><tspan x="2957" dy="14.6"># handleAutoRating()</tspan><tspan x="2957" dy="14.6"># hasAutoRating()</tspan><tspan x="2957" dy="14.6">- appendCopyInfoToTranslations()</tspan><tspan x="2957" dy="14.6">- getCallbackForTitlesPerLanguage</tspan><tspan x="2957" dy="14.6">Transformation()</tspan><tspan x="2957" dy="14.6">- appendNumberOfCopiesToTitle()</tspan><tspan x="2957" dy="14.6">- isTitleUnique()</tspan><tspan x="2957" dy="14.6">- buildTitleWithoutCopySuffix()</tspan></text></g>
<g id="ilObjUser"><rect class="b" x="2917" y="3295" width="202" height="745"/><path class="k" d="M2917,3321H3119M2917,3636H3119"/><text class="c" x="3018" y="3313">ilObjUser</text>
<text x="2925" y="3321.4"><tspan x="2925" dy="14.6">+ $login</tspan><tspan x="2925" dy="14.6">+ $gender</tspan><tspan x="2925" dy="14.6">+ $utitle</tspan><tspan x="2925" dy="14.6">+ $firstname</tspan><tspan x="2925" dy="14.6">+ $lastname</tspan><tspan x="2925" dy="14.6">+ $fullname</tspan><tspan x="2925" dy="14.6">+ $department</tspan><tspan x="2925" dy="14.6">+ $street</tspan><tspan x="2925" dy="14.6">+ $city</tspan><tspan x="2925" dy="14.6">+ $country</tspan><tspan x="2925" dy="14.6">and 12 more...</tspan><tspan x="2925" dy="14.6"># $time_limit_message</tspan><tspan x="2925" dy="14.6"># $last_login</tspan><tspan x="2925" dy="14.6"># $passwd</tspan><tspan x="2925" dy="14.6"># $password_encoding_type</tspan><tspan x="2925" dy="14.6"># $password_salt</tspan><tspan x="2925" dy="14.6"># $birthday</tspan><tspan x="2925" dy="14.6"># $second_email</tspan><tspan x="2925" dy="14.6"># $inactivation_date</tspan><tspan x="2925" dy="14.6"># $org_units</tspan><tspan x="2925" dy="14.6"># $last_profile_prompt</tspan></text>
<text x="2925" y="3636.4"><tspan x="2925" dy="14.6">+ __construct()</tspan><tspan x="2925" dy="14.6">+ read()</tspan><tspan x="2925" dy="14.6">+ getPasswordEncodingType()</tspan><tspan x="2925" dy="14.6">+ setPasswordEncodingType()</tspan><tspan x="2925" dy="14.6">+ getPasswordSalt()</tspan><tspan x="2925" dy="14.6">+ setPasswordSalt()</tspan><tspan x="2925" dy="14.6">+ assignData()</tspan><tspan x="2925" dy="14.6">+ saveAsNew()</tspan><tspan x="2925" dy="14.6">+ update()</tspan><tspan x="2925" dy="14.6">+ writeAccepted()</tspan><tspan x="2925" dy="14.6">and 168 more...</tspan><tspan x="2925" dy="14.6">+ _lookupFullname()</tspan><tspan x="2925" dy="14.6">+ _lookupEmail()</tspan><tspan x="2925" dy="14.6">+ _lookupGender()</tspan><tspan x="2925" dy="14.6">+ _lookupClientIP()</tspan><tspan x="2925" dy="14.6">+ _lookupName()</tspan><tspan x="2925" dy="14.6">+ _lookupFields()</tspan><tspan x="2925" dy="14.6">+ _lookupLogin()</tspan><tspan x="2925" dy="14.6">+ _lookupExternalAccount()</tspan><tspan x="2925" dy="14.6">+ _lookupId()</tspan><tspan x="2925" dy="14.6">+ _lookupLastLogin()</tspan><tspan x="2925" dy="14.6">and 63 more...</tspan><tspan x="2925" dy="14.6"># buildTextFromArray()</tspan><tspan x="2925" dy="14.6"># readMultiTextFields()</tspan><tspan x="2925" dy="14.6"># deleteMultiTextFields()</tspan><tspan x="2925" dy="14.6">- _lookup()</tspan><tspan x="2925" dy="14.6">- getLoginFromAuth()</tspan></text></g>
<g id="GlobalHttpState"><rect class="b" x="2703" y="3574" width="191" height="193"/><path class="k" d="M2703,3600H2894M2703,3626H2894"/><text class="c" x="2798.5" y="3592">ILIAS\HTTP\GlobalHttpState</text>
<text x="2711" y="3626.4"><tspan x="2711" dy="14.6">+ durations()</tspan><tspan x="2711" dy="14.6">+ wrapper()</tspan><tspan x="2711" dy="14.6">+ request()</tspan><tspan x="2711" dy="14.6">+ response()</tspan><tspan x="2711" dy="14.6">+ cookieJar()</tspan><tspan x="2711" dy="14.6">+ saveRequest()</tspan><tspan x="2711" dy="14.6">+ saveResponse()</tspan><tspan x="2711" dy="14.6">+ sendResponse()</tspan><tspan x="2711" dy="14.6">+ close()</tspan></text></g>
<g id="ilRbacSystem"><rect class="b" x="2930" y="4109" width="177" height="237"/><path class="k" d="M2930,4135H3107M2930,4161H3107"/><text class="c" x="3018.5" y="4127">ilRbacSystem</text>
<text x="2938" y="4161.4"><tspan x="2938" dy="14.6">+ checkAccess()</tspan><tspan x="2938" dy="14.6">+ checkAccessOfUser()</tspan><tspan x="2938" dy="14.6">+ preloadRbacPaCache()</tspan><tspan x="2938" dy="14.6">+ checkPermission()</tspan><tspan x="2938" dy="14.6">+ initMemberView()</tspan><tspan x="2938" dy="14.6">+ addTemporaryRole()</tspan><tspan x="2938" dy="14.6">+ resetPACache()</tspan><tspan x="2938" dy="14.6">+ getInstance()</tspan><tspan x="2938" dy="14.6">+ resetCaches()</tspan><tspan x="2938" dy="14.6"># __construct()</tspan><tspan x="2938" dy="14.6"># filterOwnerPermissions()</tspan><tspan x="2938" dy="14.6">- fetchAssignedRoles()</tspan></text></g>
<g id="SkillInternalManagerService"><rect class="s" x="627" y="4411" width="229" height="209"/><path class="k" d="M627,4453H856M627,4479H856"/><text class="c" x="741.5" y="4428"><tspan x="741.5">ILIAS\Skill\Service</tspan><tspan x="741.5" dy="15">\SkillInternalManagerService</tspan></text>
<text x="635" y="4479.4"><tspan x="635" dy="14.6">+ __construct()</tspan><tspan x="635" dy="14.6">+ getLevelManager()</tspan><tspan x="635" dy="14.6">+ getUserLevelManager()</tspan><tspan x="635" dy="14.6">+ getTreeManager()</tspan><tspan x="635" dy="14.6">+ getTreeNodeManager()</tspan><tspan x="635" dy="14.6">+ getTreeAccessManager()</tspan><tspan x="635" dy="14.6">+ getManagementAccessManager()</tspan><tspan x="635" dy="14.6">+ getProfileManager()</tspan><tspan x="635" dy="14.6">+ getProfileCompletionManager()</tspan></text></g>
</svg>
